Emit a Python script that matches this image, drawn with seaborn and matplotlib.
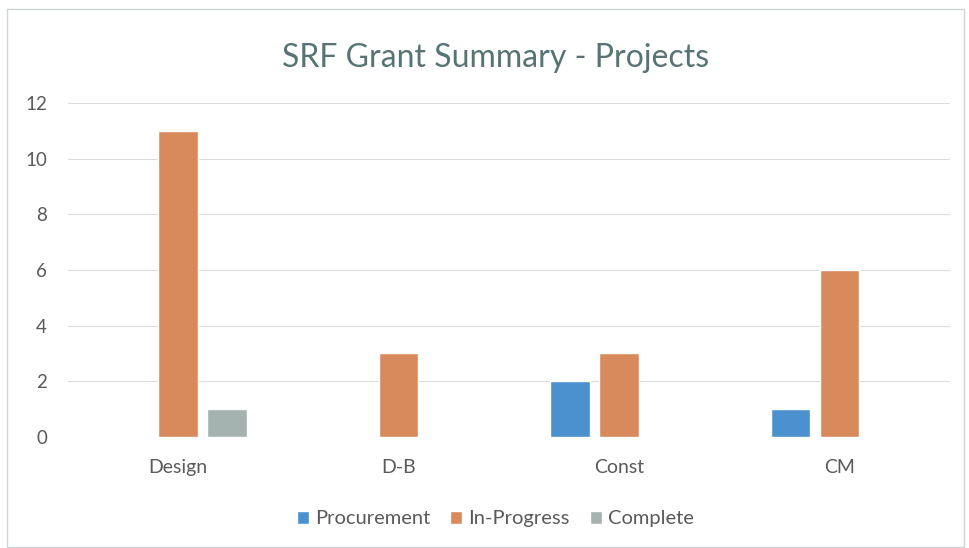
import pandas as pd
import numpy as np
import matplotlib
matplotlib.use('Agg')
import matplotlib.pyplot as plt
import seaborn as sns
from matplotlib.patches import Rectangle

# data
categories = ['Design', 'D-B', 'Const', 'CM']
series = ['Procurement', 'In-Progress', 'Complete']
procurement = [0, 0, 2, 1]
in_progress = [11, 3, 3, 6]
complete = [1, 0, 0, 0]
colors = ['#4b91cd', '#d98a5c', '#a4b3b0']

df = pd.DataFrame({
    'cat': categories * 3,
    'status': [s for s in series for _ in categories],
    'count': procurement + in_progress + complete,
})

sns.set_style('white')
plt.rcParams['font.family'] = ['Lato', 'DejaVu Sans']

fig = plt.figure(figsize=(9.69, 5.48), dpi=100)
ax = fig.add_axes([0.070, 0.2026, 0.910, 0.6094])

sns.barplot(data=df, x='cat', y='count', hue='status', palette=colors,
            width=0.667, gap=0.2, saturation=1, ax=ax, legend=True)

ax.set_ylim(0, 12)
ax.set_xlim(-0.5, 3.5)
ax.set_yticks(range(0, 13, 2))
ax.yaxis.grid(True, color='#dcdcdc', linewidth=0.8)
ax.set_axisbelow(True)
for s in ax.spines.values():
    s.set_visible(False)
ax.set_xlabel('')
ax.set_ylabel('')
ax.tick_params(axis='x', length=0, pad=16, labelsize=14, labelcolor='#5a5a5a')
ax.tick_params(axis='y', length=0, pad=15, labelsize=13.5, labelcolor='#5a5a5a')

fig.text(0.511, 0.895, 'SRF Grant Summary - Projects', ha='center', va='center',
         fontsize=23, color='#577474')

handles, labels = ax.get_legend_handles_labels()
ax.get_legend().remove()
fig.legend(handles, labels, loc='center', bbox_to_anchor=(0.511, 0.053), ncol=3,
           frameon=False, fontsize=14.5, labelcolor='#5a5a5a',
           handlelength=0.6, handleheight=0.6, handletextpad=0.3, columnspacing=1.0)

fig.patches.append(Rectangle((0.007, 0.002), 0.988, 0.981, transform=fig.transFigure,
                             fill=False, edgecolor='#d0d4d4', linewidth=1))

fig.savefig('out.png', dpi=100, facecolor='white')
